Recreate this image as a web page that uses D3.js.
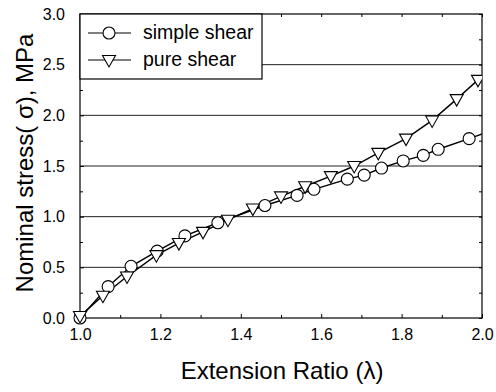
<!DOCTYPE html>
<html>
<head>
<meta charset="utf-8">
<script src="https://cdn.jsdelivr.net/npm/d3@7"></script>
<style>
  html, body { margin: 0; padding: 0; background: #fff; }
  svg { display: block; font-family: "Liberation Sans", Arial, Helvetica, sans-serif; }
</style>
</head>
<body>
<svg id="chart" width="496" height="392"></svg>
<script>
// Extension ratio (λ) and nominal stress (MPa) for the two loading modes
const simpleLambda = [1.0, 1.07, 1.127, 1.192, 1.261, 1.343, 1.46, 1.54, 1.582, 1.665, 1.707, 1.75, 1.804, 1.854, 1.891, 1.968, 2.03];
const simpleStress = [0.0, 0.31, 0.51, 0.66, 0.81, 0.94, 1.11, 1.21, 1.27, 1.37, 1.41, 1.48, 1.55, 1.605, 1.665, 1.77, 1.86];
const pureLambda = [1.0, 1.057, 1.117, 1.19, 1.246, 1.306, 1.368, 1.43, 1.5, 1.56, 1.624, 1.682, 1.742, 1.811, 1.876, 1.937, 1.99, 2.05];
const pureStress = [0.02, 0.22, 0.41, 0.62, 0.74, 0.85, 0.97, 1.08, 1.20, 1.30, 1.40, 1.50, 1.63, 1.77, 1.95, 2.16, 2.35, 2.52];

const xTicks = [1.0, 1.2, 1.4, 1.6, 1.8, 2.0];
const yTicks = [0.0, 0.5, 1.0, 1.5, 2.0, 2.5, 3.0];
const xMinor = [1.1, 1.3, 1.5, 1.7, 1.9];
const yMinor = [0.25, 0.75, 1.25, 1.75, 2.25, 2.75];
const seriesNames = ["simple shear", "pure shear"];

const svg = d3.select("#chart");
const plotLeft = 80, plotRight = 482, plotTop = 14, plotBottom = 318;

const x = d3.scaleLinear().domain([1.0, 2.0]).range([plotLeft, plotRight]);
const y = d3.scaleLinear().domain([0, 3.0]).range([plotBottom, plotTop]);

// horizontal grid lines
svg.append("g").selectAll("line")
  .data(yTicks.filter(v => v > 0 && v < 3))
  .join("line")
  .attr("x1", plotLeft).attr("x2", plotRight)
  .attr("y1", d => y(d)).attr("y2", d => y(d))
  .attr("stroke", "#222").attr("stroke-width", 1);

// axes with inward ticks
const fmt = d3.format(".1f");
svg.append("g").attr("transform", `translate(0,${plotBottom})`)
  .call(d3.axisBottom(x).tickValues(xTicks).tickFormat(fmt).tickSizeInner(-4).tickSizeOuter(0).tickPadding(11));
svg.append("g").attr("transform", `translate(0,${plotBottom})`)
  .call(d3.axisBottom(x).tickValues(xMinor).tickFormat("").tickSizeInner(-3).tickSizeOuter(0));
svg.append("g").attr("transform", `translate(0,${plotTop})`)
  .call(d3.axisTop(x).tickValues(xTicks.concat(xMinor)).tickFormat("").tickSizeInner(-3).tickSizeOuter(0));
svg.append("g").attr("transform", `translate(${plotLeft},0)`)
  .call(d3.axisLeft(y).tickValues(yTicks).tickFormat(fmt).tickSizeInner(-4).tickSizeOuter(0).tickPadding(15));
svg.append("g").attr("transform", `translate(${plotLeft},0)`)
  .call(d3.axisLeft(y).tickValues(yMinor).tickFormat("").tickSizeInner(-3).tickSizeOuter(0));
svg.append("g").attr("transform", `translate(${plotRight},0)`)
  .call(d3.axisRight(y).tickValues(yTicks.concat(yMinor)).tickFormat("").tickSizeInner(-3).tickSizeOuter(0));

svg.selectAll(".domain").remove();
svg.selectAll(".tick line").attr("stroke", "#000");
svg.selectAll(".tick text").attr("font-size", 16).attr("fill", "#000")
  .attr("font-family", "'Liberation Sans', Arial, sans-serif");

// plot frame
svg.append("rect").attr("x", plotLeft).attr("y", plotTop)
  .attr("width", plotRight - plotLeft).attr("height", plotBottom - plotTop)
  .attr("fill", "none").attr("stroke", "#000").attr("stroke-width", 1.2);

// clip for data
svg.append("clipPath").attr("id", "plotClip").append("rect")
  .attr("x", plotLeft - 8).attr("y", plotTop).attr("width", plotRight - plotLeft + 8).attr("height", plotBottom - plotTop + 8);

const triPath = "M-6.5,-4.5L6.5,-4.5L0,7Z";

const plot = svg.append("g").attr("clip-path", "url(#plotClip)");
const lineGen = d3.line().x(d => x(d[0])).y(d => y(d[1]));
const simpleData = simpleLambda.map((v, i) => [v, simpleStress[i]]);
const pureData = pureLambda.map((v, i) => [v, pureStress[i]]);

plot.append("path").datum(simpleData).attr("d", lineGen)
  .attr("fill", "none").attr("stroke", "#000").attr("stroke-width", 1.4);
plot.append("path").datum(pureData).attr("d", lineGen)
  .attr("fill", "none").attr("stroke", "#000").attr("stroke-width", 1.4);

plot.append("g").selectAll("circle").data(simpleData).join("circle")
  .attr("cx", d => x(d[0])).attr("cy", d => y(d[1])).attr("r", 6)
  .attr("fill", "#fff").attr("stroke", "#000").attr("stroke-width", 1.1);
plot.append("g").selectAll("path").data(pureData).join("path")
  .attr("transform", d => `translate(${x(d[0])},${y(d[1])})`)
  .attr("d", triPath)
  .attr("fill", "#fff").attr("stroke", "#000").attr("stroke-width", 1.1);

// legend
const lg = svg.append("g");
lg.append("rect").attr("x", plotLeft).attr("y", plotTop).attr("width", 182).attr("height", 65)
  .attr("fill", "#fff").attr("stroke", "#000").attr("stroke-width", 1.2);
seriesNames.forEach((name, i) => {
  const ly = 33 + i * 27;
  lg.append("line").attr("x1", 88).attr("x2", 131).attr("y1", ly).attr("y2", ly)
    .attr("stroke", "#000").attr("stroke-width", 1.2);
  if (i === 0) {
    lg.append("circle").attr("cx", 109).attr("cy", ly).attr("r", 6)
      .attr("fill", "#fff").attr("stroke", "#000").attr("stroke-width", 1.1);
  } else {
    lg.append("path").attr("transform", `translate(109,${ly})`).attr("d", triPath)
      .attr("fill", "#fff").attr("stroke", "#000").attr("stroke-width", 1.1);
  }
  lg.append("text").attr("x", 143).attr("y", ly + 6).attr("font-size", 19.5)
    .attr("fill", "#000").text(name);
});

// axis titles
svg.append("text").attr("x", 282).attr("y", 379).attr("text-anchor", "middle")
  .attr("font-size", 24).attr("fill", "#000").text("Extension Ratio (λ)");
svg.append("text").attr("transform", "translate(33,163) rotate(-90)")
  .attr("text-anchor", "middle").attr("font-size", 24).attr("fill", "#000")
  .text("Nominal stress( σ), MPa");
</script>
</body>
</html>
